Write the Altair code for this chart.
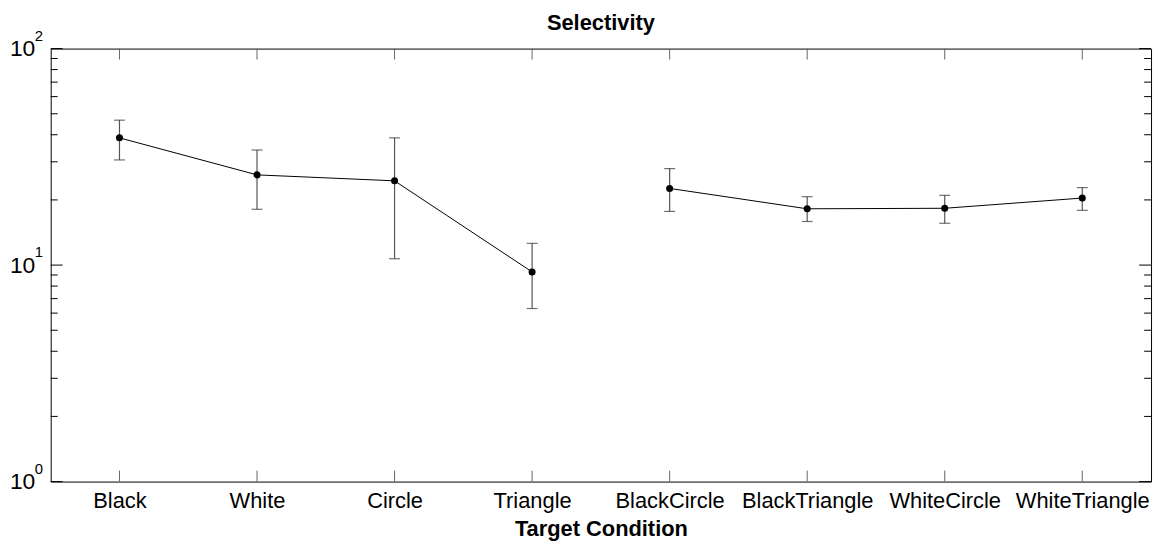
import altair as alt
import pandas as pd

categories = ["Black", "White", "Circle", "Triangle",
              "BlackCircle", "BlackTriangle", "WhiteCircle", "WhiteTriangle"]
groups = [1, 1, 1, 1, 2, 2, 2, 2]
selectivity = [38.7, 26.1, 24.5, 9.3, 22.6, 18.2, 18.3, 20.4]
err_low = [30.6, 18.1, 10.7, 6.3, 17.7, 15.9, 15.6, 17.9]
err_high = [46.7, 34.0, 38.7, 12.6, 27.9, 20.7, 21.0, 22.8]
major_ticks = [1, 10, 100]
exponents = ["0", "1", "2"]
minor_ticks = [2, 3, 4, 5, 6, 7, 8, 9, 20, 30, 40, 50, 60, 70, 80, 90]

W, H = 1108, 436
FONT = "Liberation Sans"

df = pd.DataFrame(dict(cond=categories, grp=groups, val=selectivity,
                       lo=err_low, hi=err_high, idx=list(range(len(categories)))))
exp_df = pd.DataFrame(dict(e=exponents, v=major_ticks))
minor_df = pd.DataFrame(dict(v=minor_ticks))
major_df = pd.DataFrame(dict(v=major_ticks))

xscale = alt.Scale(type="point", padding=0.5)
xaxis = alt.Axis(title="Target Condition", labelAngle=0, ticks=False, domain=False,
                 grid=False, labelFontSize=22, labelPadding=9, labelColor="black",
                 titleFontSize=22, titleFontWeight="bold", titleColor="black",
                 titlePadding=7)
x = alt.X("cond:N", sort=categories, scale=xscale, axis=xaxis)

yscale = alt.Scale(type="log", domain=[1, 100], nice=False)
yaxis = alt.Axis(values=major_ticks, labelExpr="'10'", ticks=False, domain=False,
                 grid=False, labelFontSize=23, labelPadding=16, title=None,
                 labelColor="black")


def Y(field):
    return alt.Y(field, scale=yscale, axis=yaxis)


base = alt.Chart(df)

line = base.mark_line(color="black", strokeWidth=1).encode(
    x=x, y=Y("val:Q"), detail="grp:N", order=alt.Order("idx:Q"))

bars = base.mark_rule(color="#555555", strokeWidth=1.2).encode(
    x=x, y=Y("lo:Q"), y2="hi:Q")

cap_lo = base.mark_tick(color="#333333", orient="horizontal", size=11, thickness=1.2).encode(
    x=x, y=Y("lo:Q"))
cap_hi = base.mark_tick(color="#333333", orient="horizontal", size=11, thickness=1.2).encode(
    x=x, y=Y("hi:Q"))

points = base.mark_circle(size=50, color="black", opacity=1).encode(
    x=x, y=Y("val:Q"))

xt_bottom = base.mark_rule(color="#666666", strokeWidth=1).encode(
    x=x, y=alt.value(H - 11), y2=alt.value(H))
xt_top = base.mark_rule(color="#666666", strokeWidth=1).encode(
    x=x, y=alt.value(0), y2=alt.value(11))

minor_l = alt.Chart(minor_df).mark_rule(color="black", strokeWidth=1).encode(
    y=Y("v:Q"), x=alt.value(0), x2=alt.value(7))
minor_r = alt.Chart(minor_df).mark_rule(color="black", strokeWidth=1).encode(
    y=Y("v:Q"), x=alt.value(W - 7), x2=alt.value(W))
major_l = alt.Chart(major_df).mark_rule(color="black", strokeWidth=1).encode(
    y=Y("v:Q"), x=alt.value(0), x2=alt.value(12))
major_r = alt.Chart(major_df).mark_rule(color="black", strokeWidth=1).encode(
    y=Y("v:Q"), x=alt.value(W - 12), x2=alt.value(W))

exps = alt.Chart(exp_df).mark_text(align="left", baseline="middle", dy=-13,
                                    fontSize=15, color="black").encode(
    y=Y("v:Q"), x=alt.value(-16), text="e:N")

chart = alt.layer(
    line, minor_l, minor_r, major_l, major_r, xt_bottom, xt_top,
    bars, cap_lo, cap_hi, points, exps
).properties(
    width=W, height=H,
    title=alt.TitleParams("Selectivity", fontSize=22, fontWeight="bold",
                          anchor="middle", offset=-6, color="black"),
    autosize=alt.AutoSizeParams(type="none"),
    padding={"left": 43, "top": 39, "right": 7, "bottom": 64},
).configure(font=FONT).configure_view(stroke="black", strokeWidth=1)

chart.save("out.html", embed_options={"renderer": "svg", "actions": False})
